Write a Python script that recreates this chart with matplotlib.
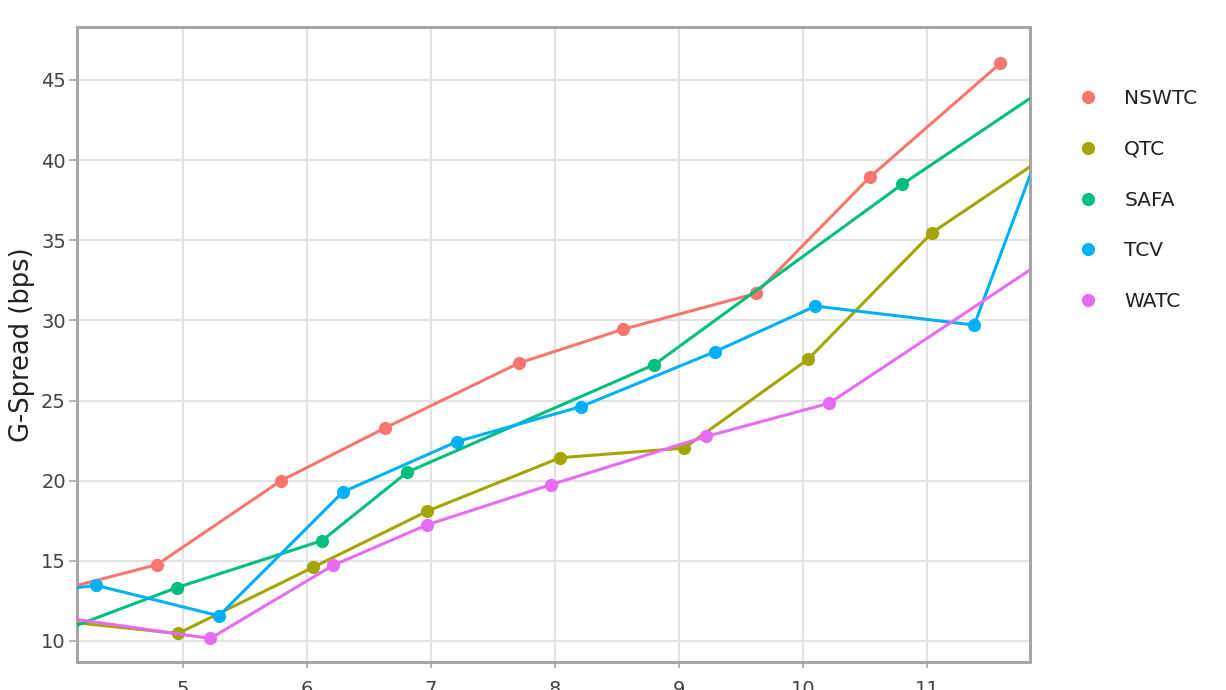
import matplotlib
matplotlib.use("Agg")
import matplotlib.pyplot as plt
from matplotlib.lines import Line2D

# ---- data ----
series_names = ["NSWTC", "QTC", "SAFA", "TCV", "WATC"]
colors = ["#F8766D", "#A3A500", "#00BF7D", "#00B0F6", "#E76BF3"]

nswtc_x = [4.00, 4.79, 5.79, 6.63, 7.71, 8.55, 9.62, 10.54, 11.59]
nswtc_y = [13.18, 14.76, 20.0, 23.29, 27.34, 29.45, 31.68, 38.95, 46.03]

qtc_x = [4.00, 4.96, 6.05, 6.97, 8.04, 9.04, 10.04, 11.04, 12.00]
qtc_y = [11.25, 10.47, 14.6, 18.1, 21.43, 22.03, 27.57, 35.47, 40.47]

safa_x = [4.00, 4.95, 6.12, 6.81, 8.80, 10.80, 12.00]
safa_y = [10.56, 13.33, 16.26, 20.54, 27.24, 38.49, 44.73]

tcv_x = [4.00, 4.30, 5.29, 6.29, 7.21, 8.21, 9.29, 10.10, 11.38, 12.00]
tcv_y = [13.2, 13.47, 11.57, 19.3, 22.44, 24.62, 28.05, 30.89, 29.71, 42.56]

watc_x = [4.00, 5.22, 6.21, 6.97, 7.97, 9.22, 10.21, 12.00]
watc_y = [11.5, 10.16, 14.72, 17.25, 19.76, 22.76, 24.83, 34.02]

xs = [nswtc_x, qtc_x, safa_x, tcv_x, watc_x]
ys = [nswtc_y, qtc_y, safa_y, tcv_y, watc_y]

x_ticks = [5, 6, 7, 8, 9, 10, 11]
y_ticks = [10, 15, 20, 25, 30, 35, 40, 45]
y_label = "G-Spread (bps)"

# ---- figure ----
plt.rcParams['font.family'] = ['DejaVu Sans']
W, H = 1226, 690
fig = plt.figure(figsize=(W / 100, H / 100), dpi=100)
ax = fig.add_axes([77 / W, 1 - 662 / H, (1030 - 77) / W, (662 - 27) / H])

for name, c, x, y in zip(series_names, colors, xs, ys):
    ax.plot(x, y, color=c, lw=2.2, marker='o', markersize=9.5,
            markeredgewidth=0, label=name, solid_capstyle='round', zorder=3)

ax.set_xlim(4.145, 11.83)
ax.set_ylim(8.69, 48.3)
ax.set_xticks(x_ticks)
ax.set_yticks(y_ticks)
ax.set_xticklabels([str(t) for t in x_ticks])
ax.set_yticklabels([str(t) for t in y_ticks])

ax.grid(True, color='#e3e3e3', lw=1.6, zorder=0)
ax.set_axisbelow(True)
for s in ax.spines.values():
    s.set_color('#a6a6a6')
    s.set_linewidth(2.2)

ax.tick_params(axis='x', length=4, width=1.2, color='#a6a6a6', pad=9,
               labelsize=14, labelcolor='#444444')
ax.tick_params(axis='y', length=6, width=1.2, color='#a6a6a6', pad=2,
               labelsize=14, labelcolor='#444444')

ax.set_ylabel(y_label, fontsize=18.5, color='#222222')
ax.yaxis.set_label_coords(-0.044, 0.5)

handles = [Line2D([], [], color=c, marker='o', linestyle='None',
                  markersize=9.5, markeredgewidth=0) for c in colors]
fig.legend(handles, series_names, loc='upper left',
           bbox_to_anchor=(1078 / W, 1 - 89 / H), frameon=False,
           fontsize=14.5, handlelength=1.0, handletextpad=1.3,
           labelspacing=1.58, borderpad=0, borderaxespad=0,
           labelcolor='#222222')

fig.savefig("out.png", dpi=100)
